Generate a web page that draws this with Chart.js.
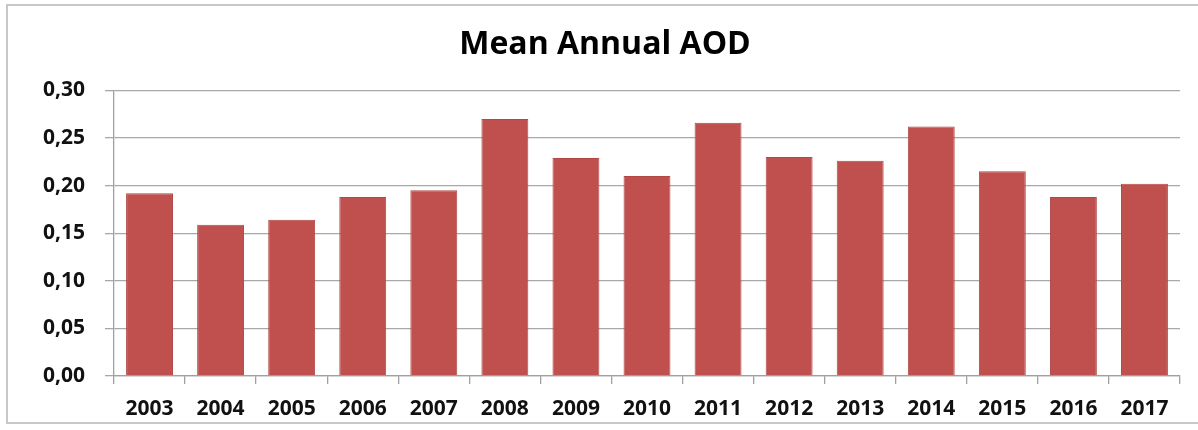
<!DOCTYPE html>
<html>
<head>
<meta charset="utf-8">
<script src="https://cdn.jsdelivr.net/npm/chart.js@4"></script>
<style>
    body { margin: 0; background: #fff; }
    #wrap { position: relative; width: 1198px; height: 430px; }
    #frame { position: absolute; left: 6px; top: 4px; width: 1200px; height: 420px; border: 2px solid #c8c8c8; box-sizing: border-box; }
    canvas { position: absolute; left: 0; top: 0; }
</style>
</head>
<body>
<div id="wrap">
    <div id="frame"></div>
    <canvas id="myChart" width="1198" height="430"></canvas>
</div>
<script>
const years = ['2003', '2004', '2005', '2006', '2007', '2008', '2009', '2010',
    '2011', '2012', '2013', '2014', '2015', '2016', '2017'];
const meanAod = [0.192, 0.159, 0.164, 0.188, 0.195, 0.270, 0.229, 0.210,
    0.266, 0.230, 0.226, 0.262, 0.215, 0.188, 0.202];
const yTicks = [0, 0.05, 0.10, 0.15, 0.20, 0.25, 0.30];

const labelFont = { family: 'Open Sans', size: 21, weight: 'bold' };

const aodChart = initGraph();

function initGraph() {
    const ctx = document.getElementById('myChart');

    return new Chart(ctx, {
        type: 'bar',
        data: {
            labels: years,
            datasets: [{
                label: 'Mean Annual AOD',
                data: meanAod,
                backgroundColor: '#c0504d',
                borderColor: '#b04844',
                borderWidth: 1,
                barPercentage: 0.66,
                categoryPercentage: 1
            }]
        },
        options: {
            responsive: false,
            animation: false,
            // left padding only shifts the title centre; y axis width makes up the rest
            layout: { padding: { left: 30, right: 18, top: 0, bottom: 0 } },
            plugins: {
                legend: { display: false },
                tooltip: { enabled: false },
                title: {
                    display: true,
                    text: 'Mean Annual AOD',
                    color: '#000',
                    font: { family: 'Open Sans', size: 32, weight: 'bold' },
                    padding: { top: 26, bottom: 26 }
                }
            },
            scales: {
                x: {
                    afterFit: scale => { scale.height = 54; },
                    grid: {
                        offset: true,
                        drawOnChartArea: false,
                        drawTicks: true,
                        tickLength: 8,
                        color: '#a0a0a0',
                        lineWidth: 1.3
                    },
                    border: { color: '#a0a0a0', width: 1.3 },
                    ticks: { color: '#111', font: labelFont, padding: 12, maxRotation: 0 }
                },
                y: {
                    min: 0,
                    max: 0.3,
                    afterFit: scale => { scale.width = 84; },
                    afterBuildTicks: scale => { scale.ticks = yTicks.map(v => ({ value: v })); },
                    grid: { color: '#a8a8a8', lineWidth: 1.3, tickLength: 9 },
                    border: { color: '#a0a0a0', width: 1.3 },
                    ticks: {
                        color: '#111',
                        font: labelFont,
                        padding: 20,
                        callback: value => value.toFixed(2).replace('.', ',')
                    }
                }
            }
        }
    });
}
</script>
</body>
</html>
